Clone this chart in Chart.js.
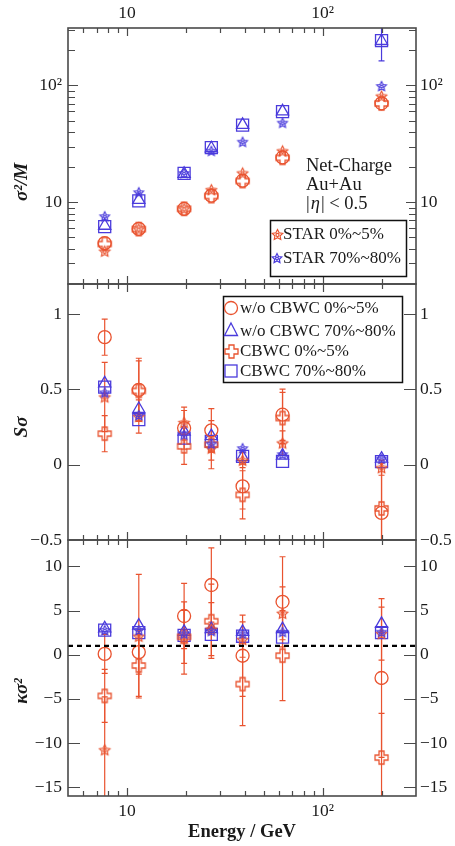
<!DOCTYPE html>
<html><head><meta charset="utf-8">
<script src="https://cdn.jsdelivr.net/npm/chart.js@4/dist/chart.umd.min.js"></script>
<style>
html,body{margin:0;padding:0;background:#fff;width:455px;height:846px;overflow:hidden}
.p{position:absolute;left:0;width:455px}
</style></head><body>
<div class="p" style="top:0;height:308px"><canvas id="c1"></canvas></div>
<div class="p" style="top:260px;height:304px"><canvas id="c2"></canvas></div>
<div class="p" style="top:516px;height:330px"><canvas id="c3"></canvas></div>
<script>
// ---------------- DATA ----------------
const energies = [7.7, 11.5, 19.6, 27, 39, 62.4, 200];

// sigma^2/M
const varM_woCBWC_0_5   = [4.47, 5.92, 8.77, 11.4, 15.3, 24.2, 70.3];
const varM_woCBWC_70_80 = [6.3, 10.5, 17.5, 29.0, 46.0, 60.0, 240];
const varM_CBWC_0_5     = [4.4, 5.9, 8.8, 11.3, 15.2, 24.0, 70];
const varM_CBWC_70_80   = [6.2, 10.3, 17.7, 29.4, 45.7, 59.7, 242];
const varM_STAR_0_5     = [3.82, 5.9, 8.8, 12.8, 17.8, 27.5, 81];
const varM_STAR_70_80   = [7.6, 12.2, 17.8, 27.6, 33, 48, 99];
const varM_CBWC_70_80_err = [0, 0, 0, 0, 0, 0, 80];

// S sigma
const Ss_woCBWC_0_5   = [0.847, 0.497, 0.243, 0.228, -0.144, 0.332, -0.32];
const Ss_woCBWC_70_80 = [0.54, 0.37, 0.22, 0.19, 0.05, 0.06, 0.04];
const Ss_CBWC_0_5     = [0.206, 0.49, 0.122, 0.133, -0.2, 0.31, -0.29];
const Ss_CBWC_70_80   = [0.515, 0.30, 0.177, 0.155, 0.055, 0.022, 0.02];
const Ss_STAR_0_5     = [0.45, 0.32, 0.28, 0.11, 0.03, 0.144, -0.02];
const Ss_STAR_70_80   = [0.48, 0.33, 0.2, 0.14, 0.11, 0.07, 0.04];
const Ss_woCBWC_0_5_err = [0.12, 0.21, 0.14, 0.145, 0.15, 0.17, 0.3];
const Ss_CBWC_0_5_err   = [0.12, 0.2, 0.12, 0.16, 0.16, 0.17, 0.3];
const Ss_STAR_0_5_err   = [0.23, 0.11, 0.08, 0.08, 0.05, 0.08, 0.05];

// kappa sigma^2
const Ks_woCBWC_0_5   = [0.1, 0.3, 4.39, 7.9, -0.11, 6.0, -2.63];
const Ks_woCBWC_70_80 = [3.0, 3.3, 2.6, 2.9, 2.6, 2.9, 3.5];
const Ks_CBWC_0_5     = [-4.66, -1.22, 2.03, 3.8, -3.32, -0.1, -11.65];
const Ks_CBWC_70_80   = [2.8, 2.5, 2.2, 2.3, 2.1, 2.0, 2.5];
const Ks_STAR_0_5     = [-10.77, 2.1, 1.9, 2.9, 1.72, 4.7, 2.4];
const Ks_STAR_70_80   = [2.8, 2.8, 2.4, 2.7, 2.4, 2.6, 2.6];
const Ks_woCBWC_0_5_err = [2.2, 2.5, 3.7, 4.2, 4.6, 5.1, 9.0];
const Ks_CBWC_0_5_err   = [3.0, 3.5, 3.0, 4.2, 4.7, 5.1, 5.0];
const Ks_STAR_0_5_err   = [6.0, 7.0, 4.1, 3.0, 2.0, 3.0, 3.0];
const Ks_baseline = 1;

// axes
const xRange = [5, 300];
const xLabelTicks = [10, 100];
const xMinorTicks = [6, 7, 8, 9, 20, 30, 40, 50, 60, 70, 80, 90, 200];
const varM_range = [2, 310];
const varM_labelTicks = [10, 100];
const varM_minorTicks = [3, 4, 5, 6, 7, 8, 9, 20, 30, 40, 50, 60, 70, 80, 90, 200, 300];
const Ss_range = [-0.5, 1.2];
const Ss_labelTicks = [-0.5, 0, 0.5, 1];
const Ks_range = [-16, 13];
const Ks_labelTicks = [-15, -10, -5, 0, 5, 10];

const legendTop = ['STAR 0%~5%', 'STAR 70%~80%'];
const legendMid = ['w/o CBWC 0%~5%', 'w/o CBWC 70%~80%', 'CBWC 0%~5%', 'CBWC 70%~80%'];

// ---------------- STYLE ----------------
const RED = '#e9532f', BLUE = '#4a3bdc', FRAME = '#4a4a4a', TXT = '#1a1a1a';
const SERIF = "'Liberation Serif', 'DejaVu Serif', serif";
const M = 24; // canvas overlap margin

function starImg(color, R) {
  const s = Math.ceil(2 * R + 4);
  const c = document.createElement('canvas'); c.width = c.height = s;
  const g = c.getContext('2d'); g.strokeStyle = color; g.lineWidth = 1.2;
  g.beginPath();
  for (let i = 0; i < 10; i++) {
    const r = i % 2 ? R * 0.5 : R;
    const a = -Math.PI / 2 + i * Math.PI / 5;
    const px = s / 2 + r * Math.cos(a), py = s / 2 + 0.5 + r * Math.sin(a);
    i ? g.lineTo(px, py) : g.moveTo(px, py);
  }
  g.closePath(); g.stroke();
  g.beginPath(); g.arc(s / 2, s / 2 + 0.5, R * 0.28, 0, 2 * Math.PI); g.stroke();
  return c;
}
function plusImg(color, S, arm) {
  const s = S + 4;
  const c = document.createElement('canvas'); c.width = c.height = s;
  const g = c.getContext('2d'); g.strokeStyle = color; g.lineWidth = 1.3;
  const o = s / 2, h = S / 2, a = arm / 2;
  const pts = [[-a,-h],[a,-h],[a,-a],[h,-a],[h,a],[a,a],[a,h],[-a,h],[-a,a],[-h,a],[-h,-a],[-a,-a]];
  g.beginPath();
  pts.forEach(([dx, dy], i) => i ? g.lineTo(o + dx, o + dy) : g.moveTo(o + dx, o + dy));
  g.closePath(); g.stroke();
  return c;
}
const redStar = starImg(RED, 5.5), blueStar = starImg(BLUE, 5);
const redPlus = plusImg(RED, 13, 5);

function series(label, ys, style, color, radius, errs) {
  return {
    type: 'scatter', label, data: energies.map((x, i) => ({x, y: ys[i]})),
    pointStyle: style, pointRadius: radius, pointHoverRadius: radius,
    borderColor: color, backgroundColor: 'rgba(0,0,0,0)', pointBorderWidth: 1.3,
    errors: errs || null
  };
}

function drawMarker(ctx, kind, x, y, color) {
  ctx.save(); ctx.strokeStyle = color; ctx.lineWidth = 1.3;
  if (kind instanceof HTMLCanvasElement) {
    ctx.drawImage(kind, Math.round(x - kind.width / 2), Math.round(y - kind.height / 2));
  } else if (kind === 'circle') {
    ctx.beginPath(); ctx.arc(x, y, 6.5, 0, 2 * Math.PI); ctx.stroke();
  } else if (kind === 'triangle') {
    ctx.beginPath(); ctx.moveTo(x, y - 7.5); ctx.lineTo(x + 6.5, y + 5); ctx.lineTo(x - 6.5, y + 5); ctx.closePath(); ctx.stroke();
  } else if (kind === 'rect') {
    ctx.strokeRect(x - 6, y - 6, 12, 12);
  }
  ctx.restore();
}

const errorBars = {
  id: 'errorBars',
  beforeDatasetsDraw(chart) {
    const {ctx, chartArea: a} = chart; const y = chart.scales.y;
    ctx.save(); ctx.beginPath(); ctx.rect(a.left, a.top, a.right - a.left, a.bottom - a.top); ctx.clip();
    chart.data.datasets.forEach((d, i) => {
      if (!d.errors) return;
      const meta = chart.getDatasetMeta(i);
      ctx.strokeStyle = d.borderColor; ctx.lineWidth = 1.2;
      d.data.forEach((pt, j) => {
        const e = d.errors[j]; if (!e) return;
        const px = meta.data[j].x;
        const lo = pt.y - e, hi = pt.y + e;
        const yHi = y.getPixelForValue(hi);
        const yLo = (y.type === 'logarithmic' && lo <= 0) ? a.bottom + 10 : y.getPixelForValue(lo);
        ctx.beginPath();
        ctx.moveTo(px, yHi); ctx.lineTo(px, yLo);
        ctx.moveTo(px - 3, yHi); ctx.lineTo(px + 3, yHi);
        ctx.moveTo(px - 3, yLo); ctx.lineTo(px + 3, yLo);
        ctx.stroke();
      });
    });
    ctx.restore();
  }
};

function frameTicks(p) {
  return {
    id: 'frameTicks',
    afterDraw(chart) {
      const {ctx, chartArea: a, scales} = chart; const x = scales.x, y = scales.y;
      ctx.save(); ctx.strokeStyle = FRAME; ctx.lineWidth = 1.2;
      ctx.beginPath();
      const seg = (x1, y1, x2, y2) => { ctx.moveTo(x1, y1); ctx.lineTo(x2, y2); };
      const xt = (vals, L) => vals.forEach(v => { const px = Math.round(x.getPixelForValue(v)) + 0.5; seg(px, a.top, px, a.top + L); seg(px, a.bottom, px, a.bottom - L); });
      const yt = (vals, L) => vals.forEach(v => { const py = Math.round(y.getPixelForValue(v)) + 0.5; if (py < a.top + 1 || py > a.bottom - 1) return; seg(a.left, py, a.left + L, py); seg(a.right, py, a.right - L, py); });
      xt(xMinorTicks, 5); xt(xLabelTicks, 8);
      yt(p.yMinor || [], 7); yt(p.yLabels, p.majorLen);
      ctx.stroke();
      ctx.lineWidth = 1.6;
      ctx.strokeRect(a.left, a.top, a.right - a.left, a.bottom - a.top);
      ctx.restore();
      if (p.deco) p.deco(ctx, chart);
    }
  };
}

const fmtLin = v => (v < 0 ? '\u2212' + Math.abs(v) : String(v));
const fmtLog = v => (v === 100 ? '10\u00B2' : String(v));

function yTitle(ctx, text, x, y) {
  ctx.save(); ctx.translate(x, y); ctx.rotate(-Math.PI / 2);
  ctx.font = 'bold italic 19px ' + SERIF; ctx.fillStyle = TXT; ctx.textAlign = 'center'; ctx.textBaseline = 'middle';
  ctx.fillText(text, 0, 0); ctx.restore();
}

function makeChart(id, p) {
  const yAxis = pos => ({
    type: p.yType, position: pos, min: p.yMin, max: p.yMax,
    grid: {display: false, drawTicks: false}, border: {display: false},
    ticks: {font: {family: SERIF, size: 17.5}, color: TXT, padding: pos === 'left' ? 6 : 4, autoSkip: false, maxRotation: 0, callback: v => p.fmt(v)},
    afterBuildTicks: s => { s.ticks = p.yLabels.map(v => ({value: v})); },
    afterFit: s => { s.width = pos === 'left' ? 68 : 39; }
  });
  const xAxis = {
    type: 'logarithmic', min: xRange[0], max: xRange[1], position: p.xPos || 'bottom', display: !!p.xPos,
    grid: {display: false, drawTicks: false}, border: {display: false},
    ticks: {font: {family: SERIF, size: 17.5}, color: TXT, padding: p.xPad || 4, autoSkip: false, maxRotation: 0, callback: v => fmtLog(v)},
    afterBuildTicks: s => { s.ticks = xLabelTicks.map(v => ({value: v})); },
    afterFit: s => { s.height = p.xHeight || 0; },
    title: p.xTitle ? {display: true, text: p.xTitle, font: {family: SERIF, size: 18.5, weight: 'bold'}, color: TXT, padding: {top: 0, bottom: 3}} : {display: false}
  };
  return new Chart(document.getElementById(id), {
    data: {datasets: p.datasets},
    options: {
      responsive: true, maintainAspectRatio: false, animation: false,
      layout: {padding: p.padding},
      plugins: {legend: {display: false}, tooltip: {enabled: false}},
      scales: {x: xAxis, y: yAxis('left'), y2: yAxis('right')}
    },
    plugins: [errorBars, frameTicks(p)]
  });
}

// ---------- top panel ----------
makeChart('c1', {
  yType: 'logarithmic', yMin: varM_range[0], yMax: varM_range[1], yLabels: varM_labelTicks, yMinor: varM_minorTicks,
  majorLen: 10, fmt: fmtLog, xPos: 'top', xHeight: 28, xPad: 4,
  padding: {top: 0, bottom: M, left: 0, right: 0},
  datasets: [
    series('STAR 70%~80%', varM_STAR_70_80, blueStar, BLUE, 5),
    series('STAR 0%~5%', varM_STAR_0_5, redStar, RED, 5),
    series('w/o CBWC 0%~5%', varM_woCBWC_0_5, 'circle', RED, 6.5),
    series('CBWC 0%~5%', varM_CBWC_0_5, redPlus, RED, 6),
    series('w/o CBWC 70%~80%', varM_woCBWC_70_80, 'triangle', BLUE, 7),
    series('CBWC 70%~80%', varM_CBWC_70_80, 'rect', BLUE, 8.5, varM_CBWC_70_80_err)
  ],
  deco(ctx) {
    yTitle(ctx, '\u03C3\u00B2/M', 22, 182);
    ctx.save(); ctx.fillStyle = TXT; ctx.textBaseline = 'middle'; ctx.textAlign = 'left';
    ctx.font = '18.5px ' + SERIF;
    ctx.fillText('Net-Charge', 306, 166);
    ctx.fillText('Au+Au', 306, 185);
    let x = 306; ctx.fillText('|', x, 204); x += ctx.measureText('|').width + 1;
    ctx.font = 'italic 18.5px ' + SERIF; ctx.fillText('\u03B7', x, 204); x += ctx.measureText('\u03B7').width + 1;
    ctx.font = '18.5px ' + SERIF; ctx.fillText('| < 0.5', x, 204);
    // legend box
    ctx.strokeStyle = '#111'; ctx.lineWidth = 1.5; ctx.strokeRect(270.5, 220.5, 136, 56);
    ctx.font = '17px ' + SERIF;
    drawMarker(ctx, redStar, 277, 234, RED); ctx.fillText(legendTop[0], 283, 235);
    drawMarker(ctx, blueStar, 277, 258, BLUE); ctx.fillText(legendTop[1], 283, 259);
    ctx.restore();
  }
});

// ---------- middle panel ----------
makeChart('c2', {
  yType: 'linear', yMin: Ss_range[0], yMax: Ss_range[1], yLabels: Ss_labelTicks,
  majorLen: 12, fmt: fmtLin, xPos: null, xHeight: 0,
  padding: {top: M, bottom: M, left: 0, right: 0},
  datasets: [
    series('STAR 70%~80%', Ss_STAR_70_80, blueStar, BLUE, 5),
    series('STAR 0%~5%', Ss_STAR_0_5, redStar, RED, 5, Ss_STAR_0_5_err),
    series('w/o CBWC 0%~5%', Ss_woCBWC_0_5, 'circle', RED, 6.5, Ss_woCBWC_0_5_err),
    series('CBWC 0%~5%', Ss_CBWC_0_5, redPlus, RED, 6, Ss_CBWC_0_5_err),
    series('w/o CBWC 70%~80%', Ss_woCBWC_70_80, 'triangle', BLUE, 7),
    series('CBWC 70%~80%', Ss_CBWC_70_80, 'rect', BLUE, 8.5)
  ],
  deco(ctx) {
    yTitle(ctx, 'S\u03C3', 22, 427 - 260);
    ctx.save(); ctx.fillStyle = TXT; ctx.textBaseline = 'middle'; ctx.textAlign = 'left';
    const oy = 284 - M - 260 + M; // canvas top offset = 260
    ctx.strokeStyle = '#111'; ctx.lineWidth = 1.5; ctx.strokeRect(223.5, 296.5 - 260, 179, 86);
    ctx.font = '17px ' + SERIF;
    const rows = [308, 330.5, 351, 371];
    const marks = [['circle', RED], ['triangle', BLUE], [redPlus, RED], ['rect', BLUE]];
    rows.forEach((ry, i) => { drawMarker(ctx, marks[i][0], 231, ry - 260, marks[i][1]); ctx.fillText(legendMid[i], 240, ry - 260 + 1); });
    ctx.restore();
  }
});

// ---------- bottom panel ----------
makeChart('c3', {
  yType: 'linear', yMin: Ks_range[0], yMax: Ks_range[1], yLabels: Ks_labelTicks,
  majorLen: 12, fmt: fmtLin, xPos: 'bottom', xHeight: 50, xPad: 5, xTitle: 'Energy / GeV',
  padding: {top: M, bottom: 0, left: 0, right: 0},
  datasets: [
    {type: 'line', label: 'baseline', data: xRange.map(x => ({x, y: Ks_baseline})), borderColor: '#000', borderWidth: 2.2, borderDash: [5, 4], pointRadius: 0, fill: false},
    series('STAR 70%~80%', Ks_STAR_70_80, blueStar, BLUE, 5),
    series('STAR 0%~5%', Ks_STAR_0_5, redStar, RED, 5, Ks_STAR_0_5_err),
    series('w/o CBWC 0%~5%', Ks_woCBWC_0_5, 'circle', RED, 6.5, Ks_woCBWC_0_5_err),
    series('CBWC 0%~5%', Ks_CBWC_0_5, redPlus, RED, 6, Ks_CBWC_0_5_err),
    series('w/o CBWC 70%~80%', Ks_woCBWC_70_80, 'triangle', BLUE, 7),
    series('CBWC 70%~80%', Ks_CBWC_70_80, 'rect', BLUE, 8.5)
  ],
  deco(ctx) {
    yTitle(ctx, '\u03BA\u03C3\u00B2', 22, 691 - 516);
  }
});
</script>
</body></html>
